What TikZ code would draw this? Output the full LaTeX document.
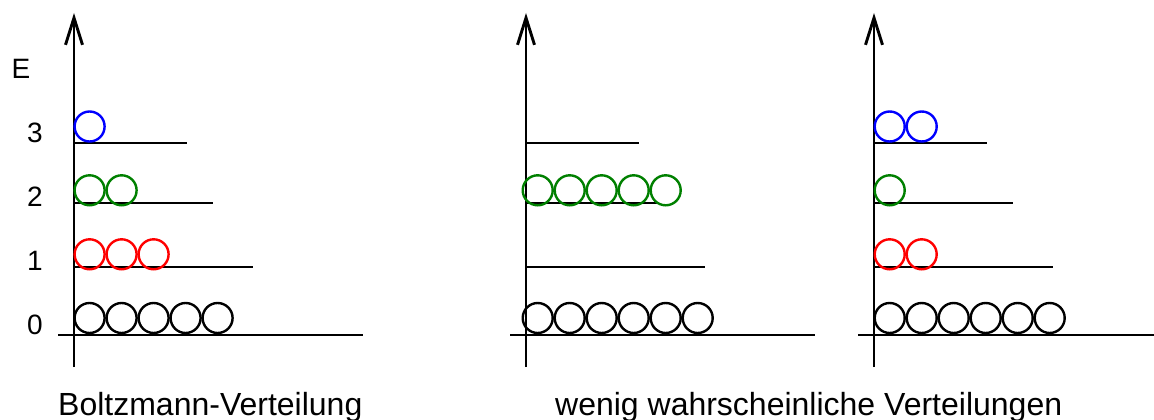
\documentclass[tikz,border=0pt]{standalone}
\usepackage{fontspec}
\setmainfont{Liberation Sans}
\usetikzlibrary{arrows.meta}
\definecolor{cblue}{RGB}{0,0,255}
\definecolor{cred}{RGB}{255,0,0}
\definecolor{cgreen}{RGB}{0,128,0}
\begin{document}
\begin{tikzpicture}[x=1pt,y=-1pt,
  axisline/.style={line width=2.9pt},
  levelline/.style={line width=2.9pt},
  particle/.style={circle,draw,line width=2.4pt,minimum size=30pt,inner sep=0pt},
  numlabel/.style={font=\fontsize{28}{30}\selectfont,anchor=base,inner sep=0pt},
  caption/.style={font=\fontsize{32}{36}\selectfont,anchor=base west,inner sep=0pt}]
\useasboundingbox (0,0) rectangle (1154,420);
% panels: axis x, level-2 line length
\foreach \ax/\ltwo in {74/139, 526/131, 874/139}{
  \draw[axisline,-{Straight Barb[length=27pt,width=17pt,line width=2.9pt]}] (\ax,367) -- (\ax,13);
  \draw[axisline] (\ax-16,335) -- (\ax+289,335);
  \draw[levelline] (\ax,143) -- (\ax+113,143);
  \draw[levelline] (\ax,203) -- (\ax+\ltwo,203);
  \draw[levelline] (\ax,267) -- (\ax+179,267);
}
% panel 1
\foreach \i in {0,...,4} \node[particle] (pa0\i) at (89.6+32*\i,318) {};
\foreach \i in {0,...,2} \node[particle,draw=cred] (pa1\i) at (89.6+32*\i,254.3) {};
\foreach \i in {0,...,1} \node[particle,draw=cgreen] (pa2\i) at (89.6+32*\i,190.3) {};
\node[particle,draw=cblue] (pa30) at (89.6,126.5) {};
% panel 2
\foreach \i in {0,...,5} \node[particle] (pb0\i) at (537.7+32*\i,318) {};
\foreach \i in {0,...,4} \node[particle,draw=cgreen] (pb2\i) at (537.7+32*\i,190.3) {};
% panel 3
\foreach \i in {0,...,5} \node[particle] (pc0\i) at (889.7+32*\i,318) {};
\foreach \i in {0,...,1} \node[particle,draw=cred] (pc1\i) at (889.7+32*\i,254.3) {};
\node[particle,draw=cgreen] (pc20) at (889.7,190.3) {};
\foreach \i in {0,...,1} \node[particle,draw=cblue] (pc3\i) at (889.7+32*\i,126.5) {};
% labels
\node[numlabel] (lE) at (21,78) {E};
\node[numlabel] (l3) at (35,142.5) {3};
\node[numlabel] (l2) at (35,206) {2};
\node[numlabel] (l1) at (35,270) {1};
\node[numlabel] (l0) at (35,334) {0};
\node[caption] (cap1) at (58,415) {Boltzmann-Verteilung};
\node[caption] (cap2) at (555,415) {wenig wahrscheinliche Verteilungen};
\end{tikzpicture}
\end{document}
